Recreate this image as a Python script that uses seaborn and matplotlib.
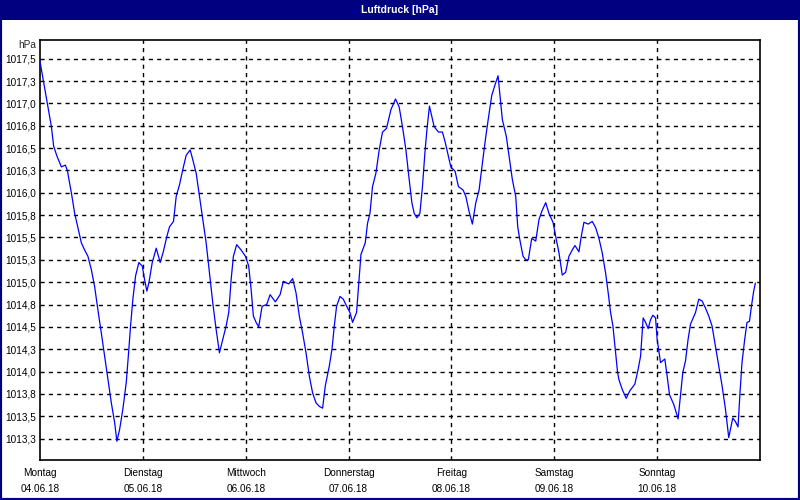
import matplotlib

matplotlib.use("Agg")

import matplotlib.pyplot as plt
import numpy as np
import pandas as pd
import seaborn as sns
from matplotlib.patches import Rectangle

# hours since Monday 04.06.18 00:00
hours = [
    0.0, 1.63, 2.66, 3.19, 3.96, 4.99, 5.92, 6.38, 7.32, 8.09, 8.85, 9.65, 10.42, 11.18,
    11.98, 12.75, 13.51, 14.31, 15.08, 15.84, 16.64, 17.41, 17.94, 18.57, 19.34, 20.13,
    20.67, 21.13, 21.67, 22.30, 23.07, 23.86, 24.40, 24.93, 25.40, 26.19, 27.12, 28.05,
    28.82, 29.59, 30.22, 31.15, 31.78, 32.55, 33.32, 34.11, 35.04, 35.65, 36.44, 37.21,
    37.98, 38.77, 39.54, 40.31, 41.10, 41.87, 42.64, 43.43, 44.04, 44.60, 45.13, 45.90,
    46.93, 47.93, 48.70, 49.26, 49.79, 50.42, 51.03, 51.82, 52.89, 53.69, 54.92, 56.02,
    56.78, 58.02, 58.95, 59.74, 60.51, 61.28, 62.07, 62.84, 63.61, 64.40, 65.17, 65.94,
    66.57, 67.50, 68.13, 68.67, 69.20, 70.00, 70.76, 71.77, 72.33, 72.93, 73.86, 74.33,
    74.89, 75.89, 76.43, 76.99, 77.59, 78.38, 79.15, 79.92, 80.85, 81.88, 82.95, 83.81,
    84.58, 85.38, 86.14, 86.77, 87.31, 87.94, 88.64, 89.24, 89.80, 90.27, 90.87, 91.34,
    91.97, 92.97, 93.90, 94.53, 95.30, 95.86, 96.86, 97.63, 98.73, 99.36, 100.12, 100.89,
    101.69, 102.45, 103.22, 104.02, 104.79, 105.41, 106.18, 106.88, 107.28, 107.88,
    108.81, 109.44, 110.21, 111.00, 111.47, 111.94, 112.71, 113.34, 113.94, 114.74,
    115.67, 116.43, 117.06, 118.00, 118.76, 119.70, 120.46, 121.09, 121.86, 122.65,
    123.42, 124.19, 124.82, 125.75, 126.29, 126.92, 127.92, 128.85, 129.65, 130.42,
    131.18, 131.98, 132.58, 133.14, 133.68, 134.31, 134.77, 135.08, 135.85, 136.78,
    137.57, 138.80, 139.50, 140.13, 140.74, 141.30, 141.91, 142.46, 143.00, 143.63,
    144.00, 144.79, 145.79, 146.33, 146.89, 147.89, 148.89, 149.45, 149.99, 150.62,
    151.22, 151.78, 152.95, 153.72, 154.48, 155.28, 156.05, 156.81, 157.61, 158.38,
    159.15, 159.94, 160.71, 161.64, 162.27, 162.87, 163.33, 163.80, 164.43, 164.97,
    165.54, 166.00, 166.53, 166.92,
]

pressure = [
    1017.47, 1017.02, 1016.74, 1016.52, 1016.41, 1016.29, 1016.31, 1016.25, 1016.00,
    1015.77, 1015.61, 1015.44, 1015.36, 1015.29, 1015.14, 1014.95, 1014.69, 1014.43,
    1014.17, 1013.91, 1013.65, 1013.43, 1013.22, 1013.35, 1013.58, 1013.88, 1014.21,
    1014.51, 1014.81, 1015.07, 1015.22, 1015.18, 1015.03, 1014.90, 1014.99, 1015.22,
    1015.38, 1015.22, 1015.35, 1015.51, 1015.62, 1015.68, 1015.96, 1016.09, 1016.26,
    1016.42, 1016.48, 1016.37, 1016.22, 1015.96, 1015.70, 1015.44, 1015.10, 1014.77,
    1014.47, 1014.21, 1014.36, 1014.51, 1014.66, 1015.03, 1015.29, 1015.42, 1015.36,
    1015.29, 1015.18, 1014.92, 1014.62, 1014.55, 1014.50, 1014.73, 1014.75, 1014.86,
    1014.78, 1014.86, 1015.01, 1014.98, 1015.04, 1014.88, 1014.62, 1014.43, 1014.21,
    1013.95, 1013.76, 1013.65, 1013.61, 1013.59, 1013.84, 1014.06, 1014.25, 1014.51,
    1014.73, 1014.84, 1014.81, 1014.71, 1014.66, 1014.55, 1014.66, 1014.95, 1015.31,
    1015.44, 1015.66, 1015.77, 1016.07, 1016.22, 1016.48, 1016.68, 1016.72, 1016.93,
    1017.05, 1016.96, 1016.74, 1016.48, 1016.15, 1015.89, 1015.77, 1015.72, 1015.77,
    1016.07, 1016.44, 1016.70, 1016.97, 1016.87, 1016.74, 1016.68, 1016.68, 1016.57,
    1016.41, 1016.29, 1016.24, 1016.07, 1016.03, 1015.96, 1015.79, 1015.65, 1015.89,
    1016.03, 1016.33, 1016.63, 1016.89, 1017.09, 1017.21, 1017.31, 1017.11, 1016.82,
    1016.63, 1016.41, 1016.15, 1015.96, 1015.62, 1015.48, 1015.29, 1015.25, 1015.25,
    1015.49, 1015.46, 1015.70, 1015.79, 1015.89, 1015.77, 1015.67, 1015.48, 1015.33,
    1015.08, 1015.11, 1015.29, 1015.36, 1015.41, 1015.34, 1015.51, 1015.67, 1015.65,
    1015.68, 1015.61, 1015.49, 1015.33, 1015.10, 1014.88, 1014.66, 1014.51, 1014.21,
    1013.99, 1013.91, 1013.80, 1013.70, 1013.78, 1013.86, 1014.01, 1014.17, 1014.60,
    1014.55, 1014.48, 1014.58, 1014.63, 1014.60, 1014.36, 1014.10, 1014.14, 1013.95,
    1013.74, 1013.63, 1013.47, 1013.73, 1013.99, 1014.12, 1014.36, 1014.53, 1014.66,
    1014.81, 1014.79, 1014.71, 1014.62, 1014.51, 1014.28, 1014.06, 1013.84, 1013.58,
    1013.26, 1013.48, 1013.44, 1013.38, 1013.76, 1014.10, 1014.36, 1014.55, 1014.56,
    1014.73, 1014.90, 1014.99,
]

day_hours = [0, 24, 48, 72, 96, 120, 144]
day_labels = [
    "Montag\n04.06.18",
    "Dienstag\n05.06.18",
    "Mittwoch\n06.06.18",
    "Donnerstag\n07.06.18",
    "Freitag\n08.06.18",
    "Samstag\n09.06.18",
    "Sonntag\n10.06.18",
]

y_ticks = [1013.25, 1013.5, 1013.75, 1014.0, 1014.25, 1014.5, 1014.75, 1015.0, 1015.25,
           1015.5, 1015.75, 1016.0, 1016.25, 1016.5, 1016.75, 1017.0, 1017.25, 1017.5]
y_labels = ["1013,3", "1013,5", "1013,8", "1014,0", "1014,3", "1014,5", "1014,8", "1015,0",
            "1015,3", "1015,5", "1015,8", "1016,0", "1016,3", "1016,5", "1016,8", "1017,0",
            "1017,3", "1017,5"]

NAVY = "#000080"

sns.set_style("white")
plt.rcParams["font.family"] = ["Liberation Sans", "DejaVu Sans"]

frame = pd.DataFrame({"hour": hours, "hPa": pressure})

fig = plt.figure(figsize=(8, 5), dpi=100)
ax = fig.add_axes([40 / 800, 40 / 500, 720 / 800, 420 / 500])

for v in y_ticks:
    ax.axhline(v, color="black", lw=1, ls=(0, (3, 3)), zorder=1)
for h in day_hours[1:]:
    ax.axvline(h, color="black", lw=1, ls=(0, (3, 3)), zorder=1)

sns.lineplot(data=frame, x="hour", y="hPa", color="#0000ff", lw=0.9, ax=ax, zorder=3)

ax.set_xlim(0, 168)
ax.set_ylim(1013.01, 1017.71)
ax.set_xticks(day_hours)
ax.set_xticklabels(day_labels, fontsize=7.2, linespacing=1.7)
ax.set_yticks(y_ticks)
ax.set_yticklabels(y_labels, fontsize=7.2)
ax.tick_params(axis="x", length=3, width=1, pad=3, colors="black", direction="out")
ax.tick_params(axis="y", length=0, pad=3, colors="black")
ax.set_xlabel("")
ax.set_ylabel("")
for spine in ax.spines.values():
    spine.set_color("black")
    spine.set_linewidth(1.2)

# window title bar and frame
fig.patches.append(Rectangle((0, 1 - 20 / 500), 1, 20 / 500, transform=fig.transFigure,
                             facecolor=NAVY, edgecolor="none", zorder=0))
fig.patches.append(Rectangle((0, 0), 1, 1, transform=fig.transFigure,
                             facecolor="none", edgecolor=NAVY, lw=3, zorder=5))
fig.text(0.5, 1 - 10 / 500, "Luftdruck [hPa]", color="white", fontsize=7.5,
         fontweight="bold", ha="center", va="center")
fig.text(36 / 800, 1 - 45 / 500, "hPa", fontsize=7.2, ha="right", va="center")

fig.savefig("out.png", dpi=100)
